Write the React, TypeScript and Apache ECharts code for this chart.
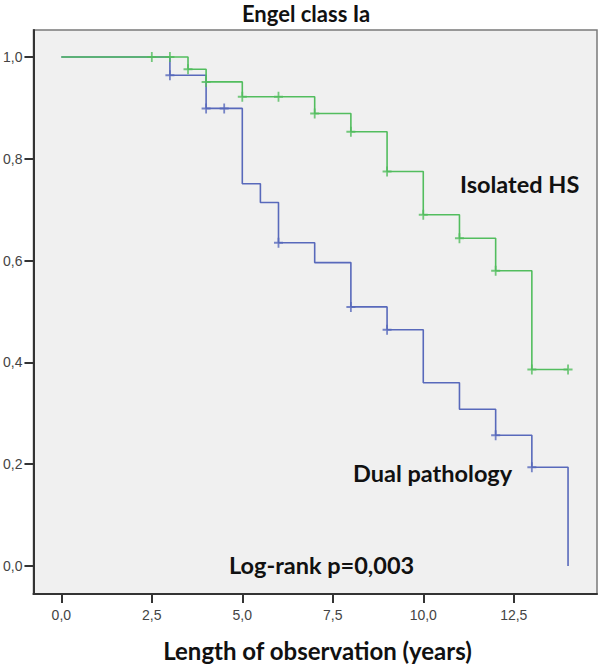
import React, { useEffect, useRef } from "react";
import * as echarts from "echarts";

// Isolated HS (green) Kaplan-Meier steps
const hsTimes = [0, 3.5, 4, 5, 7, 8, 9, 10, 11, 12, 13, 14];
const hsSurv = [1.0, 0.976, 0.951, 0.922, 0.889, 0.853, 0.775, 0.69, 0.644, 0.58, 0.386, 0.386];
const hsCensTimes = [2.5, 3, 3.5, 4, 5, 6, 7, 8, 9, 10, 11, 12, 13, 14];
const hsCensSurv = [1.0, 1.0, 0.976, 0.951, 0.922, 0.922, 0.889, 0.853, 0.775, 0.69, 0.644, 0.58, 0.386, 0.386];

// Dual pathology (blue) Kaplan-Meier steps
const dpTimes = [0, 3, 4, 5, 5.5, 6, 7, 8, 9, 10, 11, 12, 13, 14];
const dpSurv = [1.0, 0.964, 0.899, 0.751, 0.714, 0.635, 0.596, 0.509, 0.464, 0.36, 0.308, 0.257, 0.194, 0.0];
const dpCensTimes = [3, 4, 4.5, 6, 8, 9, 12, 13];
const dpCensSurv = [0.964, 0.899, 0.899, 0.635, 0.509, 0.464, 0.257, 0.194];

const xTicks = [0, 2.5, 5, 7.5, 10, 12.5];
const xTickLabels = ["0,0", "2,5", "5,0", "7,5", "10,0", "12,5"];
const yTicks = [0, 0.2, 0.4, 0.6, 0.8, 1.0];
const yTickLabels = ["0,0", "0,2", "0,4", "0,6", "0,8", "1,0"];

const title = "Engel class Ia";
const xName = "Length of observation (years)";
const labelHS = "Isolated HS";
const labelDP = "Dual pathology";
const labelP = "Log-rank p=0,003";

const GREEN = "#52bd5e";
const BLUE = "#5869bb";
const PLUS = "path://M3.2,0 L4.8,0 L4.8,3.2 L8,3.2 L8,4.8 L4.8,4.8 L4.8,8 L3.2,8 L3.2,4.8 L0,4.8 L0,3.2 L3.2,3.2 Z";

const zip = (a: number[], b: number[]) => a.map((v, i) => [v, b[i]]);

const fmt = (ticks: number[], labels: string[]) => (v: number) => {
  const i = ticks.findIndex((t) => Math.abs(t - v) < 1e-6);
  return i >= 0 ? labels[i] : "";
};

export default function App() {
  const ref = useRef<HTMLDivElement>(null);
  useEffect(() => {
    if (!ref.current) return;
    const chart = echarts.init(ref.current, null, { renderer: "svg" });
    const bold = {
      fontFamily: "Lato",
      fontWeight: "bold" as const,
      fontSize: 23.5,
      fill: "#111",
      verticalAlign: "middle" as const,
    };
    chart.setOption({
      animation: false,
      backgroundColor: "#ffffff",
      grid: {
        left: 32,
        top: 30,
        right: 3,
        bottom: 70,
        show: true,
        backgroundColor: "#f0f0f0",
        borderColor: "#7a7a7a",
        borderWidth: 1.5,
      },
      xAxis: {
        type: "value",
        min: -0.77,
        max: 14.8,
        splitLine: { show: false },
        axisLine: { show: true, onZero: false, lineStyle: { color: "#333", width: 2 } },
        axisTick: { show: true, length: 9, lineStyle: { color: "#333", width: 2 }, customValues: xTicks },
        axisLabel: {
          customValues: xTicks,
          formatter: fmt(xTicks, xTickLabels),
          fontFamily: "Liberation Sans",
          fontSize: 14,
          color: "#444",
          margin: 14,
        },
      },
      yAxis: {
        type: "value",
        min: -0.055,
        max: 1.053,
        splitLine: { show: false },
        axisLine: { show: true, onZero: false, lineStyle: { color: "#333", width: 2 } },
        axisTick: { show: true, length: 9, lineStyle: { color: "#333", width: 2 }, customValues: yTicks },
        axisLabel: {
          customValues: yTicks,
          formatter: fmt(yTicks, yTickLabels),
          fontFamily: "Liberation Sans",
          fontSize: 14,
          color: "#444",
          margin: 11,
        },
      },
      series: [
        {
          name: "Dual pathology",
          type: "line",
          step: "end",
          data: zip(dpTimes, dpSurv),
          showSymbol: false,
          lineStyle: { color: BLUE, width: 1.6 },
          z: 2,
        },
        {
          name: "Isolated HS",
          type: "line",
          step: "end",
          data: zip(hsTimes, hsSurv),
          showSymbol: false,
          lineStyle: { color: GREEN, width: 1.6 },
          z: 3,
        },
        {
          name: "Dual pathology censored",
          type: "scatter",
          data: zip(dpCensTimes, dpCensSurv),
          symbol: PLUS,
          symbolSize: [9, 10],
          itemStyle: { color: BLUE },
          z: 4,
        },
        {
          name: "Isolated HS censored",
          type: "scatter",
          data: zip(hsCensTimes, hsCensSurv),
          symbol: PLUS,
          symbolSize: [9, 10],
          itemStyle: { color: GREEN },
          z: 5,
        },
      ],
      graphic: [
        { type: "text", x: 306, y: 13, style: { ...bold, text: title, align: "center", fontSize: 22 } },
        { type: "text", x: 317.5, y: 650, style: { ...bold, text: xName, align: "center", fontSize: 24 } },
        { type: "text", x: 460, y: 184, style: { ...bold, text: labelHS, align: "left" } },
        { type: "text", x: 353, y: 473, style: { ...bold, text: labelDP, align: "left" } },
        { type: "text", x: 229, y: 565, style: { ...bold, text: labelP, align: "left" } },
      ],
    });
    return () => chart.dispose();
  }, []);
  return (
    <div
      ref={ref}
      style={{ position: "fixed", left: 0, top: 0, width: 600, height: 664 }}
    />
  );
}
